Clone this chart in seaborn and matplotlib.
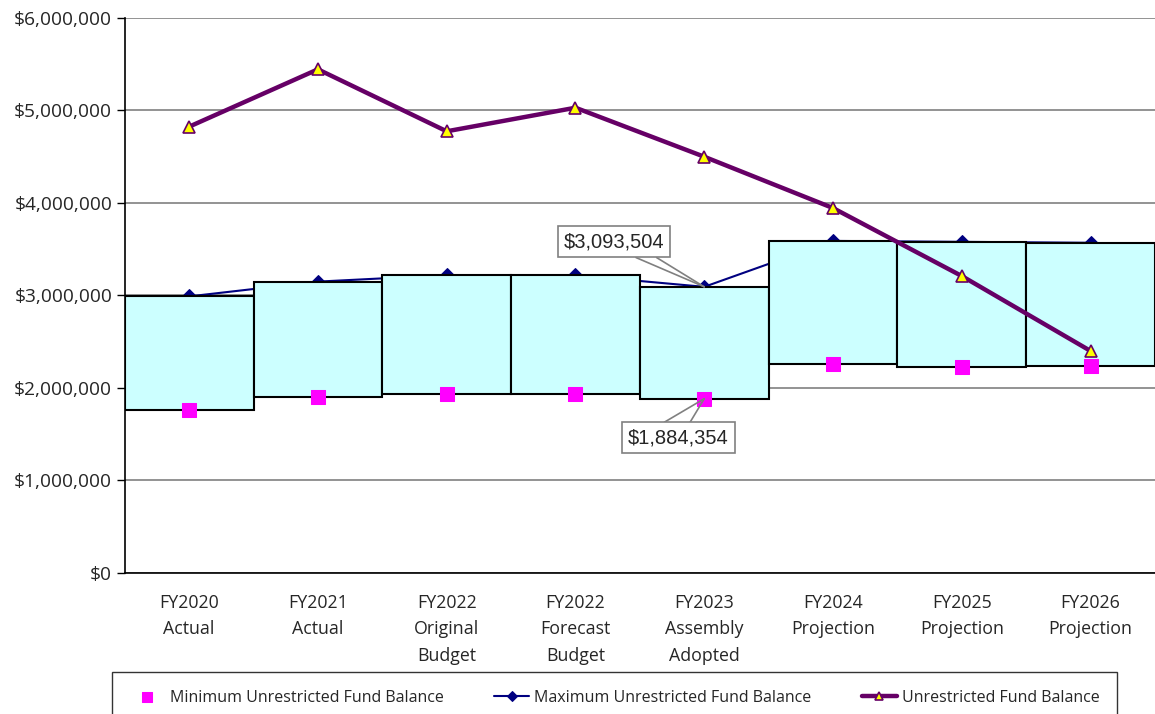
import matplotlib
matplotlib.use("Agg")
import matplotlib.pyplot as plt
from matplotlib.ticker import FuncFormatter, FixedLocator
import seaborn as sns
import pandas as pd
import numpy as np

categories = ["FY2020\nActual", "FY2021\nActual", "FY2022\nOriginal\nBudget",
              "FY2022\nForecast\nBudget", "FY2023\nAssembly\nAdopted",
              "FY2024\nProjection", "FY2025\nProjection", "FY2026\nProjection"]
min_balance = [1760000, 1905000, 1935000, 1935000, 1884354, 2255000, 2230000, 2235000]
max_balance = [2990000, 3150000, 3220000, 3220000, 3093504, 3590000, 3580000, 3570000]
unrestricted = [4825000, 5445000, 4775000, 5030000, 4500000, 3945000, 3210000, 2400000]

sns.set_style("white")
plt.rcParams["font.family"] = ["Open Sans", "DejaVu Sans"]

x = np.arange(len(categories))
df = pd.DataFrame({"x": x, "min": min_balance, "max": max_balance, "unr": unrestricted})

fig = plt.figure(figsize=(11.55, 7.14), dpi=100)
ax = fig.add_axes([0.108, 0.1975, 0.892, 0.7773])

# max line (behind boxes)
sns.lineplot(data=df, x="x", y="max", ax=ax, color="#000080", lw=1.5, marker="D",
             markersize=7, markeredgecolor="#000080", zorder=2, label="Maximum Unrestricted Fund Balance")
# floating boxes
ax.bar(x, np.array(max_balance) - np.array(min_balance), bottom=min_balance, width=1.0,
       color="#CCFFFF", edgecolor="black", linewidth=1.5, zorder=3)
# min squares
sns.scatterplot(data=df, x="x", y="min", ax=ax, color="#FF00FF", marker="s", s=90,
                edgecolor="#FF00FF", zorder=4, label="Minimum Unrestricted Fund Balance")
# unrestricted line
sns.lineplot(data=df, x="x", y="unr", ax=ax, color="#660066", lw=3.2, marker="^",
             markersize=8, markerfacecolor="#FFFF00", markeredgecolor="#660066",
             markeredgewidth=1.2, zorder=5, label="Unrestricted Fund Balance")

ax.set_xlim(-0.5, len(categories) - 0.5)
ax.set_ylim(0, 6000000)
ax.yaxis.set_major_locator(FixedLocator(np.arange(0, 6000001, 1000000)))
ax.yaxis.set_major_formatter(FuncFormatter(lambda v, p: f"${v:,.0f}"))
ax.grid(axis="y", color="#808080", lw=1.2, zorder=0)
ax.set_axisbelow(True)
ax.set_xticks(x)
ax.set_xticklabels(categories, fontsize=12.8, linespacing=1.62)
ax.set_xticks(np.arange(-0.5, len(categories), 1.0), minor=True)
ax.tick_params(axis="x", which="major", length=0, pad=15)
ax.tick_params(axis="x", which="minor", length=7, width=1, color="black", direction="out")
ax.tick_params(axis="y", length=6, width=1, color="black", direction="out", labelsize=13.8, pad=3)
ax.tick_params(axis="y", left=True)
ax.set_xlabel("")
ax.set_ylabel("")
for s in ["top", "right"]:
    ax.spines[s].set_visible(False)
for s in ["left", "bottom"]:
    ax.spines[s].set_color("black")
    ax.spines[s].set_linewidth(1.2)

# callouts: label boxes with two leader lines converging on the point
txt_kw = dict(fontsize=14.5, family=["Liberation Sans", "DejaVu Sans"], ha="center", va="center",
              bbox=dict(boxstyle="square,pad=0.3", fc="white", ec="#808080", lw=1.2), zorder=7)
line_kw = dict(arrowstyle="-", color="#808080", lw=1.2, shrinkA=0, shrinkB=0)
callouts = [
    (f"${max_balance[4]:,.0f}", (4, max_balance[4]), (3.3, 3580000), [(3.47, 3410000), (3.63, 3410000)]),
    (f"${min_balance[4]:,.0f}", (4, min_balance[4]), (3.8, 1460000), [(3.69, 1630000), (3.89, 1630000)]),
]
for text, target, pos, bases in callouts:
    for b in bases:
        ax.annotate("", xy=target, xytext=b, arrowprops=line_kw, zorder=6)
    ax.text(pos[0], pos[1], text, **txt_kw)

handles, labels = ax.get_legend_handles_labels()
order = [labels.index("Minimum Unrestricted Fund Balance"),
         labels.index("Maximum Unrestricted Fund Balance"),
         labels.index("Unrestricted Fund Balance")]
ax.get_legend().remove()
leg = fig.legend([handles[i] for i in order], [labels[i] for i in order], loc="upper left",
                 bbox_to_anchor=(0.097, -0.06, 0.87, 0.1188), mode="expand", ncol=3,
                 fontsize=11.5, frameon=True, fancybox=False, edgecolor="black",
                 handlelength=2.2, handletextpad=0.3, borderaxespad=0, borderpad=1.1,
                 markerscale=0.8)
leg.get_frame().set_linewidth(1.0)

fig.savefig("out.png", dpi=100)
